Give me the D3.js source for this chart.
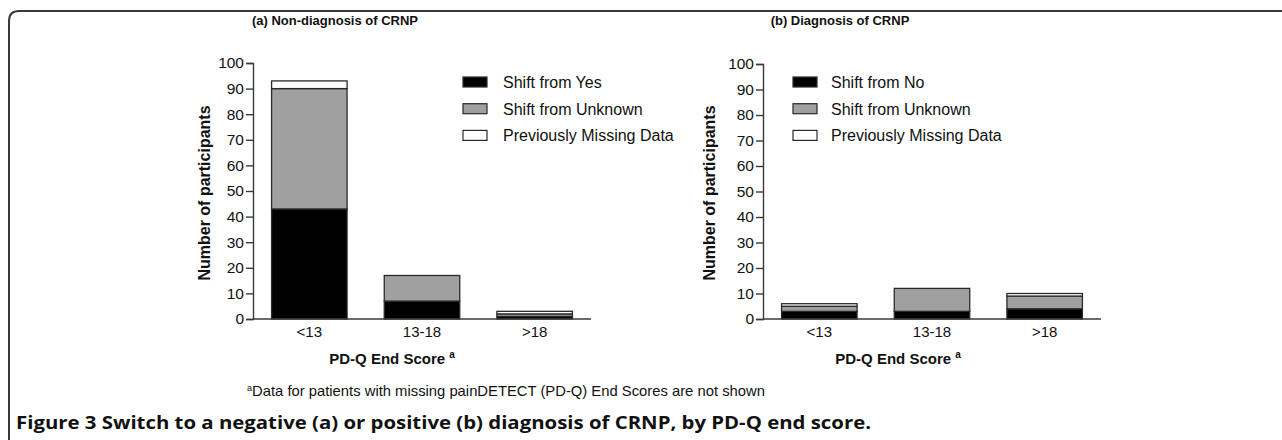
<!DOCTYPE html>
<html>
<head>
<meta charset="utf-8">
<script src="https://cdn.jsdelivr.net/npm/d3@7"></script>
<style>
  body { margin: 0; background: #fff; }
  text { font-family: Arial, "Liberation Sans", sans-serif; fill: #111; }
</style>
</head>
<body>
<div id="fig"></div>
<script>
// categories and values
const categories = ["<13", "13-18", ">18"];
const seriesA = ["Shift from Yes", "Shift from Unknown", "Previously Missing Data"];
const seriesB = ["Shift from No", "Shift from Unknown", "Previously Missing Data"];
const shiftYesA = [43, 7, 1];
const unknownA = [47, 10, 1];
const missingA = [3, 0, 1];
const shiftNoB = [3, 3, 4];
const unknownB = [2, 9, 5];
const missingB = [1, 0, 1];
const yTicks = [0, 10, 20, 30, 40, 50, 60, 70, 80, 90, 100];
const fills = ["#000000", "#a0a0a0", "#ffffff"];

const width = 1282, height = 440;
const font = "Arial, 'Liberation Sans', sans-serif";

const svg = d3.select("#fig")
  .append("svg")
  .attr("width", width)
  .attr("height", height);

// frame with rounded top-left corner
svg.append("path")
  .attr("d", "M9,440 L9,21 Q9,11 19,11 L1282,11")
  .attr("fill", "none")
  .attr("stroke", "#3a3a3a")
  .attr("stroke-width", 2);

function panel(opt) {
  const g = svg.append("g");

  let y = d3.scaleLinear().domain([0, 100]).range([opt.y0, opt.y100]);
  let x = d3.scaleBand().domain(categories)
    .range([opt.left, opt.left + 338])
    .paddingInner(0.33).paddingOuter(0.165);

  const rows = categories.map((c, i) => ({
    cat: c, s0: opt.vals[0][i], s1: opt.vals[1][i], s2: opt.vals[2][i]
  }));
  const stack = d3.stack().keys(["s0", "s1", "s2"])(rows);

  // bars
  g.selectAll(".layer")
    .data(stack)
    .enter()
    .append("g")
      .attr("fill", (d, i) => fills[i])
    .selectAll("rect")
    .data(d => d.filter(p => p[1] > p[0]))
    .enter()
    .append("rect")
      .attr("x", d => x(d.data.cat))
      .attr("width", x.bandwidth())
      .attr("y", d => y(d[1]))
      .attr("height", d => y(d[0]) - y(d[1]))
      .attr("stroke", "#2a2a2a")
      .attr("stroke-width", 1.3);

  // y axis
  const ya = g.append("g")
    .attr("transform", `translate(${opt.left},0)`)
    .call(d3.axisLeft(y).tickValues(yTicks).tickSize(7).tickPadding(2));
  ya.selectAll("text").attr("font-size", "15.5px").attr("fill", "#222")
    .style("font-family", font);
  ya.selectAll("line, path").attr("stroke", "#3a3a3a").attr("stroke-width", 1.4);

  // x axis
  const xa = g.append("g")
    .attr("transform", `translate(0,${opt.y0})`)
    .call(d3.axisBottom(x).tickSize(0).tickPadding(7).tickSizeOuter(0));
  xa.selectAll("text").attr("font-size", "15px").attr("fill", "#222")
    .style("font-family", font);
  xa.select(".domain").attr("stroke", "#3a3a3a").attr("stroke-width", 1.4)
    .attr("d", `M${opt.left},0H${opt.left + 338}`);

  // title
  g.append("text")
    .attr("x", opt.titleX).attr("y", 25)
    .attr("text-anchor", "middle")
    .attr("font-size", "13px").attr("font-weight", "bold")
    .text(opt.title);

  // y label
  g.append("text")
    .attr("transform", `translate(${opt.ylabX},193) rotate(-90)`)
    .attr("text-anchor", "middle")
    .attr("font-size", "16px").attr("font-weight", "bold")
    .text("Number of participants");

  // x label
  const xl = g.append("text")
    .attr("x", opt.xlabX).attr("y", 364)
    .attr("text-anchor", "middle")
    .attr("font-size", "15px").attr("font-weight", "bold");
  xl.append("tspan").text("PD-Q End Score");
  xl.append("tspan").attr("dx", 4).attr("dy", -6).attr("font-size", "10px").text("a");

  // legend
  const leg = g.selectAll(".leg")
    .data(opt.series)
    .enter()
    .append("g")
      .attr("transform", (d, i) => `translate(${opt.legX},${82 + i * 26.7})`);
  leg.append("rect")
    .attr("x", 0).attr("y", -5).attr("width", 24).attr("height", 10)
    .attr("fill", (d, i) => fills[i])
    .attr("stroke", "#2a2a2a").attr("stroke-width", 1.2);
  leg.append("text")
    .attr("x", opt.legTextDx).attr("y", 6)
    .attr("font-size", "16px")
    .text(d => d);
}

panel({
  left: 253, y0: 319, y100: 63,
  vals: [shiftYesA, unknownA, missingA],
  series: seriesA,
  title: "(a) Non-diagnosis of CRNP",
  titleX: 335, ylabX: 210, xlabX: 392,
  legX: 463, legTextDx: 40
});

panel({
  left: 763, y0: 319, y100: 64,
  vals: [shiftNoB, unknownB, missingB],
  series: seriesB,
  title: "(b) Diagnosis of CRNP",
  titleX: 840, ylabX: 715, xlabX: 898,
  legX: 793, legTextDx: 38
});

// footnote
const fn = svg.append("text")
  .attr("x", 247).attr("y", 396)
  .attr("font-size", "14.8px").attr("fill", "#222");
fn.append("tspan").attr("dy", -5).attr("font-size", "9px").text("a");
fn.append("tspan").attr("dy", 5).text("Data for patients with missing painDETECT (PD-Q) End Scores are not shown");

// caption
svg.append("text")
  .attr("x", 16).attr("y", 429)
  .attr("font-size", "18px").attr("font-weight", "bold")
  .style("font-family", "'Open Sans', 'Noto Sans', sans-serif")
  .attr("textLength", 855).attr("lengthAdjust", "spacingAndGlyphs")
  .text("Figure 3 Switch to a negative (a) or positive (b) diagnosis of CRNP, by PD-Q end score.");
</script>
</body>
</html>
